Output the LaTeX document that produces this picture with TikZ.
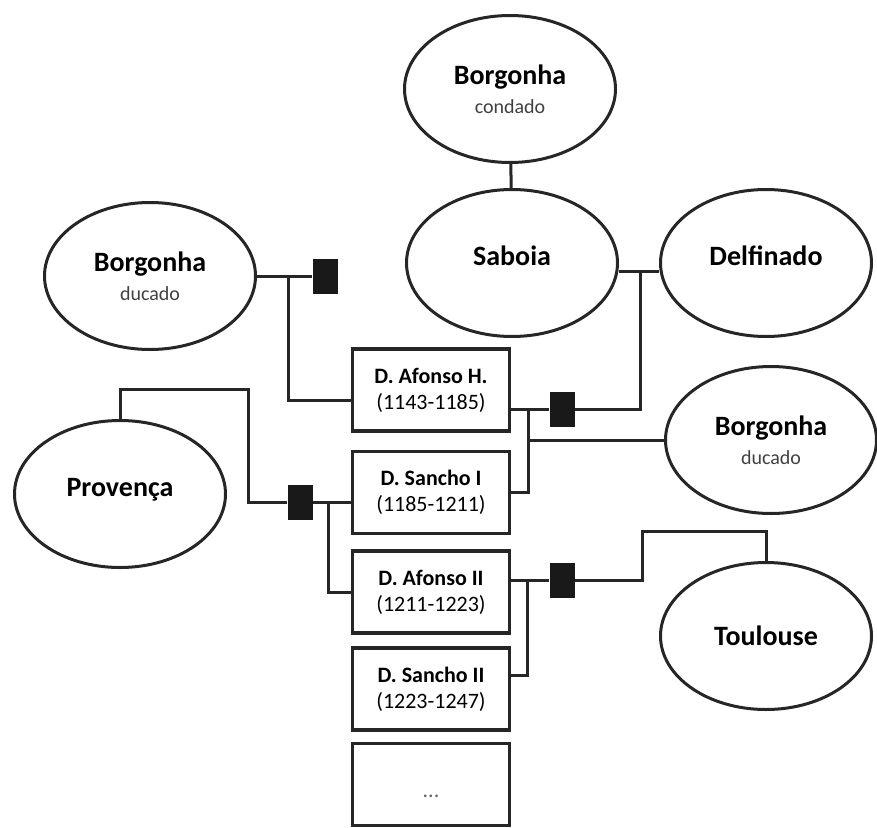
\documentclass[tikz,border=0pt]{standalone}
\usepackage{fontspec}
\setmainfont{Carlito}
\usetikzlibrary{positioning,shapes.geometric}
\tikzset{
	land/.style={ellipse, draw=black!85, line width=3pt, minimum width=211pt, minimum height=147pt, inner sep=0pt, align=center, font=\bfseries\fontsize{28}{30}\selectfont},
	high/.style={text depth=14pt},
	king/.style={rectangle, draw=black!85, line width=3.6pt, minimum width=157pt, minimum height=82pt, inner sep=0pt, align=center, font=\fontsize{22}{26}\selectfont},
	wed/.style={rectangle, fill=black!90, minimum width=25pt, minimum height=35pt, inner sep=0pt},
	link/.style={draw=black!85, line width=3pt},
}
\newcommand{\rank}[1]{\\[-1pt]{\mdseries\color{black!75}\fontsize{20}{22}\selectfont #1}}
\begin{document}
\begin{tikzpicture}[x=1pt, y=-1pt]
	\useasboundingbox (0,0) rectangle (877,827);
	\node[land] (condado) at (510,89) {Borgonha\rank{condado}};
	\node[land, high] (saboia) at (512,263) {Saboia};
	\node[land, high] (delfinado) at (766,263) {Delfinado};
	\node[land] (borgL) at (150,276) {Borgonha\rank{ducado}};
	\node[land] (borgR) at (771,440) {Borgonha\rank{ducado}};
	\node[land, high] (provenca) at (120,494) {Provença};
	\node[land] (toulouse) at (766,636) {Toulouse};
	
	\node[king] (afonsoh) at (431,390) {\textbf{D. Afonso H.}\\(1143-1185)};
	\node[king, below=17pt of afonsoh] (sancho1) {\textbf{D. Sancho I}\\(1185-1211)};
	\node[king, below=14pt of sancho1] (afonso2) {\textbf{D. Afonso II}\\(1211-1223)};
	\node[king, below=11pt of afonso2] (sancho2) {\textbf{D. Sancho II}\\(1223-1247)};
	\node[king, below=10pt of sancho2, text=black!60] (rest) {\raisebox{-13pt}[0pt][0pt]{...}};
	
	\node[wed] (m1) at (325,276) {};
	\node[wed] (m2) at (562,409) {};
	\node[wed] (m3) at (300,502) {};
	\node[wed] (m4) at (562,580) {};
	
	\coordinate (j1) at (288,276);
	\coordinate (j2) at (640,271);
	\coordinate (j3) at (528,409);
	\coordinate (j4) at (328,502);
	\coordinate (j5) at (527,580);
	\coordinate (p1) at (248,389);
	\coordinate (t1) at (642,531);
	
	\draw[link] (condado) -- (saboia);
	\draw[link] (j2 -| saboia.east) -- (j2 -| delfinado.west);
	\draw[link] (borgL) -- (m1);
	\draw[link] (j1) |- ([yshift=-10pt]afonsoh.west);
	\draw[link] (m2 -| afonsoh.east) -- (m2) -| (j2);
	\draw[link] (j3) |- (sancho1.east);
	\draw[link] (j3 |- borgR.west) -- (borgR.west);
	\draw[link] (provenca.north) |- (p1) |- (m3) -- (m3 -| sancho1.west);
	\draw[link] (j4) |- (afonso2.west);
	\draw[link] (m4 -| afonso2.east) -- (m4) -| (t1) -| (toulouse.north);
	\draw[link] (j5) |- ([yshift=13pt]sancho2.east);
\end{tikzpicture}
\end{document}
